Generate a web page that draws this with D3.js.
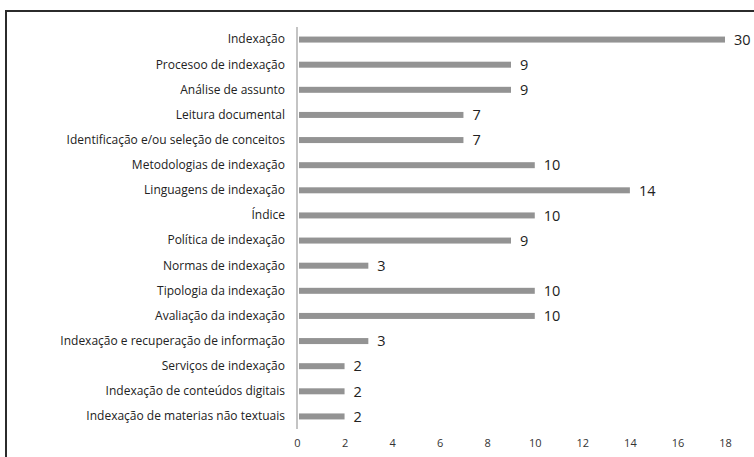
<!DOCTYPE html>
<html>
<head>
<meta charset="utf-8">
<script src="https://cdn.jsdelivr.net/npm/d3@7"></script>
<style>
  html, body { margin: 0; padding: 0; background: #fff; }
  svg { display: block; }
</style>
</head>
<body>
<svg id="chart" width="754" height="457"></svg>
<script>
// Topics and number of occurrences
const categories = [
  "Indexação",
  "Procesoo de indexação",
  "Análise de assunto",
  "Leitura documental",
  "Identificação e/ou seleção de conceitos",
  "Metodologias de indexação",
  "Linguagens de indexação",
  "Índice",
  "Política de indexação",
  "Normas de indexação",
  "Tipologia da indexação",
  "Avaliação da indexação",
  "Indexação e recuperação de informação",
  "Serviços de indexação",
  "Indexação de conteúdos digitais",
  "Indexação de materias não textuais"
];
const counts = [30, 9, 9, 7, 7, 10, 14, 10, 9, 3, 10, 10, 3, 2, 2, 2];
const xTicks = [0, 2, 4, 6, 8, 10, 12, 14, 16, 18];

const svg = d3.select("#chart");
const font = "'Open Sans', 'DejaVu Sans', sans-serif";

// outer frame (top and left edges fall inside the view)
svg.append("rect")
  .attr("x", 6).attr("y", 11)
  .attr("width", 760).attr("height", 460)
  .attr("fill", "none")
  .attr("stroke", "#2b2b2b")
  .attr("stroke-width", 2);

const plot = { left: 297, right: 725, top: 27, bottom: 429 };

// values past the last tick are held at the edge of the plot
const x = d3.scaleLinear().domain([0, 18]).range([plot.left, plot.right]).clamp(true);
const y = d3.scaleBand().domain(categories).range([plot.top, plot.bottom]);

const data = categories.map((c, i) => ({ cat: c, value: counts[i] }));
const barH = 6;

// bars
svg.append("g").selectAll("rect")
  .data(data).join("rect")
  .attr("x", x(0) + 2)
  .attr("y", d => y(d.cat) + y.bandwidth() / 2 - barH / 2)
  .attr("width", d => Math.max(0, x(d.value) - x(0) - 2))
  .attr("height", barH)
  .attr("fill", "#939393");

// value labels
svg.append("g").selectAll("text")
  .data(data).join("text")
  .attr("x", d => x(d.value) + 9)
  .attr("y", d => y(d.cat) + y.bandwidth() / 2)
  .attr("dy", "0.36em")
  .attr("font-family", font)
  .attr("font-size", 14.5)
  .attr("fill", "#222")
  .text(d => d.value);

// category axis
const yAxis = svg.append("g")
  .attr("transform", `translate(${plot.left},0)`)
  .call(d3.axisLeft(y).tickSize(0).tickPadding(12));
yAxis.select(".domain").remove();
yAxis.selectAll("text")
  .attr("font-family", font)
  .attr("font-size", 12)
  .attr("fill", "#222");

// vertical baseline
svg.append("line")
  .attr("x1", x(0)).attr("x2", x(0))
  .attr("y1", plot.top).attr("y2", plot.bottom)
  .attr("stroke", "#c4c4c4")
  .attr("stroke-width", 2);

// value axis
const xAxis = svg.append("g")
  .attr("transform", `translate(0,${plot.bottom})`)
  .call(d3.axisBottom(x).tickValues(xTicks).tickSize(0).tickPadding(10).tickFormat(d3.format("d")));
xAxis.select(".domain").remove();
xAxis.selectAll("text")
  .attr("font-family", font)
  .attr("font-size", 11)
  .attr("fill", "#333");
</script>
</body>
</html>
